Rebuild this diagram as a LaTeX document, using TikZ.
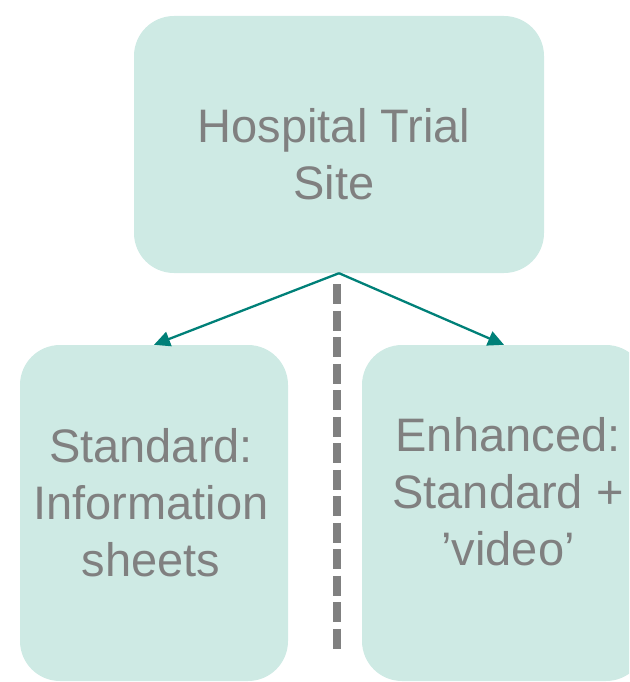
\documentclass[tikz,border=0pt]{standalone}
\usepackage{fontspec}
\setmainfont{Liberation Sans}
\usepackage{tikz}
\usetikzlibrary{arrows.meta}
\definecolor{mint}{RGB}{206,234,228}
\definecolor{teal}{RGB}{0,128,120}
\definecolor{greytext}{RGB}{128,128,128}
\begin{document}
\begin{tikzpicture}[x=1pt,y=-1pt,
  box/.style={fill=mint, rounded corners=40pt, inner sep=0pt},
  lbl/.style={text=greytext, align=center, inner sep=0pt, font=\fontsize{47}{57}\selectfont},
  branch/.style={teal, line width=2.3pt, -{Triangle[length=16pt,width=15pt]}}]
\useasboundingbox (0,0) rectangle (629,682);
\clip (0,0) rectangle (629,682);
% divider
\coordinate (divtop) at (337,284);
\coordinate (divbot) at (337,649);
\draw [greytext, line width=7.5pt, dash pattern=on 20pt off 6.5pt] (divtop) -- (divbot);
% boxes
\node [box, minimum width=410pt, minimum height=257pt] (site) at (339,144.5) {};
\node [box, minimum width=268pt, minimum height=336pt] (standard) at (154,513) {};
\node [box, minimum width=284pt, minimum height=336pt] (enhanced) at (504,513) {};
% texts
\node [lbl] (sitetext) at (334,154.5) {Hospital Trial\\Site};
\node [lbl] (standardtext) at (151,502.5) {Standard:\\Information\\sheets};
\node [lbl] (enhancedtext) at (508,492) {Enhanced:\\Standard +\\’video’};
% arms
\draw [branch] (site.south) -- (standard.north);
\draw [branch] (site.south) -- (enhanced.north);
\end{tikzpicture}
\end{document}
